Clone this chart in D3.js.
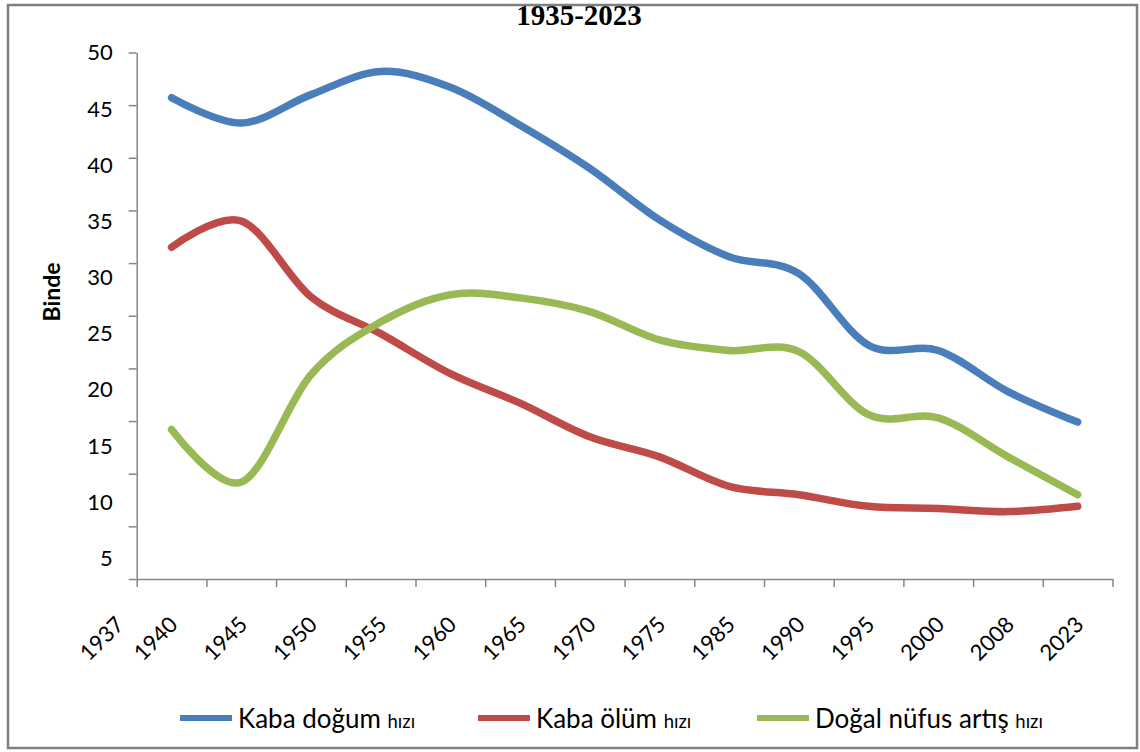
<!DOCTYPE html>
<html><head><meta charset="utf-8">
<script src="https://cdn.jsdelivr.net/npm/d3@7"></script>
<style>body{margin:0;background:#fff}svg{display:block}</style>
</head><body><svg id="c" width="1140" height="752"></svg>
<script>
// ---- data ----
const categories = ["1940","1945","1950","1955","1960","1965","1970","1975","1985","1990","1995","2000","2008","2023"];
const extraLabel = "1937";
const birthRate   = [45.7,43.3,46.0,48.2,46.7,43.1,39.0,34.1,30.6,29.0,22.2,21.7,17.8,14.9];
const deathRate   = [31.5,34.0,26.8,23.3,19.5,16.7,13.5,11.6,8.8,8.0,6.9,6.7,6.4,6.9];
const naturalRate = [14.2,9.2,19.4,24.4,27.0,26.7,25.4,22.7,21.7,21.6,15.6,15.3,11.6,8.0];
const yTickValues = [0,5,10,15,20,25,30,35,40,45,50];
const yTickLabels = [5,10,15,20,25,30,35,40,45,50];
const seriesNames = ["Kaba doğum","Kaba ölüm","Doğal nüfus artış"];
const seriesSuffix = "hızı";
const title = "1935-2023";
const yTitle = "Binde";

const colors = ["#4a7ebb","#be4b48","#98b954"];
const series = [birthRate, deathRate, naturalRate];

const svg = d3.select("#c");
svg.append("rect").attr("width",1140).attr("height",752).attr("fill","#fff");

const X0 = 136.7, X1 = 1112.5, Y0 = 579, Y1 = 52.5;
const x = d3.scaleBand().domain(categories).range([X0, X1]);
const xb = d3.scaleLinear().domain([0, categories.length]).range([X0, X1]);
const y = d3.scaleLinear().domain([0, 50]).range([Y0, Y1]);
const yLab = d3.scaleLinear().domain([5, 50]).range([558, 52.5]);

const axisColor = "#868686";
const font = "Lato, 'Open Sans', sans-serif";

// y axis
const ga = svg.append("g").attr("transform", `translate(${X0},0)`)
  .call(d3.axisLeft(y).tickValues(yTickValues).tickSize(8).tickSizeOuter(0).tickFormat(""));
ga.selectAll("path,line").attr("stroke", axisColor).attr("stroke-width", 1.5);

// y labels
svg.append("g").selectAll("text").data(yTickLabels).join("text")
  .attr("x", 112.7).attr("y", d => yLab(d)).attr("dy","0.36em")
  .attr("text-anchor","end").attr("font-family",font).attr("font-size",22).attr("fill","#000")
  .text(d => d);

// x axis
const gx = svg.append("g").attr("transform", `translate(0,${Y0})`)
  .call(d3.axisBottom(xb).tickValues(d3.range(categories.length + 1)).tickSize(8).tickSizeOuter(0).tickFormat(""));
gx.selectAll("path,line").attr("stroke", axisColor).attr("stroke-width", 1.5);

// x labels
const xl = svg.append("g");
const labelData = categories.map(c => ({t: c, px: x(c) + x.bandwidth()/2 + 7.5}));
labelData.unshift({t: extraLabel, px: X0 - 11.5});
xl.selectAll("text").data(labelData).join("text")
  .attr("transform", d => `translate(${d.px},626) rotate(-45)`)
  .attr("text-anchor","end").attr("font-family",font).attr("font-size",22).attr("fill","#000")
  .text(d => d.t);

// y title
svg.append("text").attr("transform","translate(60,292) rotate(-90)")
  .attr("text-anchor","middle").attr("font-family",font).attr("font-weight","bold")
  .attr("font-size",23).text(yTitle);

// lines
const line = d3.line()
  .x((d,i) => x(categories[i]) + x.bandwidth()/2)
  .y(d => y(d))
  .curve(d3.curveCardinal.tension(0));
series.forEach((s,k) => {
  svg.append("path").datum(s).attr("d", line)
    .attr("fill","none").attr("stroke", colors[k]).attr("stroke-width", 7.5)
    .attr("stroke-linecap","round").attr("stroke-linejoin","round");
});

// legend
const legX = [180, 478, 757];
const lg = svg.append("g");
seriesNames.forEach((n,k) => {
  lg.append("line").attr("x1", legX[k]).attr("x2", legX[k] + 52).attr("y1", 718).attr("y2", 718)
    .attr("stroke", colors[k]).attr("stroke-width", 6);
  const t = lg.append("text").attr("x", legX[k] + 58).attr("y", 728)
    .attr("font-family", font).attr("font-size", 26).attr("fill","#000");
  t.append("tspan").text(n + " ");
  t.append("tspan").attr("font-size", 18.5).text(seriesSuffix);
});

// title
svg.append("text").attr("x", 579).attr("y", 24.5).attr("text-anchor","middle")
  .attr("font-family","'Liberation Serif', 'Times New Roman', serif").attr("font-weight","bold")
  .attr("font-size", 29).text(title);

// border
svg.append("rect").attr("x",8).attr("y",5).attr("width",1129).attr("height",743)
  .attr("fill","none").attr("stroke","#7f7f7f").attr("stroke-width",2.5);
</script></body></html>
